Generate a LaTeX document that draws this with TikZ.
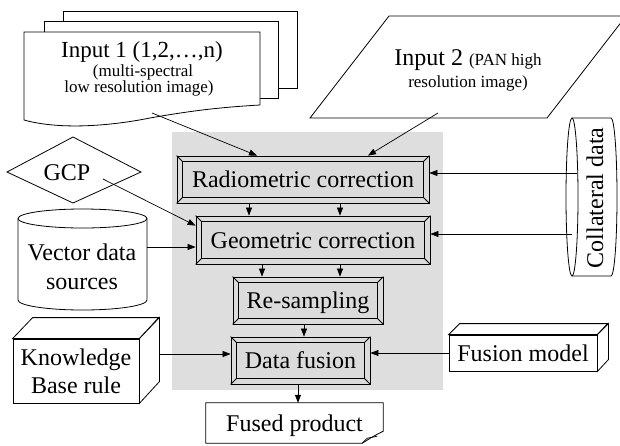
\documentclass[tikz,border=0pt]{standalone}
\usepackage{fontspec}
\setmainfont{Liberation Serif}
\usetikzlibrary{arrows.meta,calc}
\tikzset{
  big/.style={font=\fontsize{24}{26}\selectfont, inner sep=0pt, anchor=base},
  smalltxt/.style={font=\fontsize{17}{19}\selectfont, inner sep=0pt, anchor=base},
  edge/.style={draw=black, line width=0.8pt},
  arr/.style={-{Triangle[length=8pt,width=6pt]}, line width=0.7pt},
  bevelbox/.style={draw=black, fill=black!14, line width=0.8pt, inner sep=0pt,
     text height=16pt, text depth=0pt, font=\fontsize{24}{26}\selectfont},
  plainbox/.style={draw=black, fill=white, line width=0.8pt, inner sep=0pt,
     text height=16pt, text depth=0pt, font=\fontsize{24}{26}\selectfont},
}
\newcommand\bevelit[1]{%
  \draw[line width=0.8pt] ([shift={(6pt,-6pt)}]#1.north west) rectangle ([shift={(-6pt,6pt)}]#1.south east);
  \draw[line width=0.8pt] (#1.north west) -- ([shift={(6pt,-6pt)}]#1.north west)
     (#1.north east) -- ([shift={(-6pt,-6pt)}]#1.north east)
     (#1.south west) -- ([shift={(6pt,6pt)}]#1.south west)
     (#1.south east) -- ([shift={(-6pt,6pt)}]#1.south east);}
\begin{document}
\begin{tikzpicture}[x=1pt,y=-1pt]
\useasboundingbox (0,0) rectangle (620,445);
% gray background
\fill[black!13] (172,132) rectangle (443,390);

% process boxes
\node[bevelbox, minimum width=252pt, minimum height=47pt] (rad) at (303,179.5) {Radiometric correction};
\bevelit{rad}
\node[bevelbox, minimum width=234pt, minimum height=48pt] (geo) at (313,240) {Geometric correction};
\bevelit{geo}
\node[bevelbox, minimum width=150pt, minimum height=47pt] (res) at (308,300.5) {Re-sampling};
\bevelit{res}
\node[bevelbox, minimum width=139pt, minimum height=47pt] (fus) at (300.5,360.5) {Data fusion};
\bevelit{fus}

% Input 1 stacked documents
\draw[edge, fill=white] (63,88) -- (63,11) -- (297,11) -- (297,88) -- cycle;
\draw[edge, fill=white] (44,98) -- (44,21) -- (278,21) -- (278,98) -- cycle;
\draw[edge, fill=white] (24,120) -- (24,32) -- (260,32) -- (260,105)
   .. controls (225,107) and (195,110) .. (150,118)
   .. controls (110,126) and (60,130) .. (24,120) -- cycle;
\node[big, font=\fontsize{23}{26}\selectfont] (in1a) at (142,57) {Input 1 (1,2,…,n)};
\node[smalltxt] (in1b) at (143,76) {(multi-spectral};
\node[smalltxt] (in1c) at (139,92) {low resolution image)};
\coordinate (in1out) at (152,113);

% Input 2 parallelogram
\draw[edge, fill=white] (310,118) -- (389,16) -- (626,16) -- (547,118) -- cycle;
\node[big] (in2a) at (468,65) {Input 2 {\fontsize{17}{19}\selectfont (PAN high}};
\node[smalltxt] (in2b) at (468,87) {resolution image)};
\coordinate (in2out) at (438,113);

% GCP diamond
\draw[edge, fill=white] (7,172) -- (73,137) -- (141,172) -- (73,203) -- cycle;
\node[big] (gcp) at (67,180) {GCP};
\coordinate (gcpout) at (103,179);

% Vector data cylinder
\draw[edge, fill=white] (18,218.5) -- (18,300) arc (180:360:64.5pt and 10pt) -- (147,218.5);
\draw[edge, fill=white] (82.5,218.5) ellipse (64.5pt and 9.5pt);
\node[big] (vec1) at (82,260) {Vector data};
\node[big] (vec2) at (82,289) {sources};
\coordinate (vecout) at (147,247);

% Collateral data cylinder (horizontal axis)
\draw[edge, fill=white] (572,118) -- (611,118) arc (90:-90:6pt and 79pt) -- (572,276);
\draw[edge, fill=white] (572,197) ellipse (6pt and 79pt);
\node[big, rotate=90] (col) at (603,198) {Collateral data};
\coordinate (colout1) at (577,173);
\coordinate (colout2) at (572,234);

% Knowledge base cuboid
\node[draw=black, fill=white, line width=0.8pt, minimum width=126pt, minimum height=64pt, inner sep=0pt] (kb) at (76,371) {};
\draw[edge, fill=white] (kb.north west) -- ++(20pt,21pt) -- ++(126pt,0pt) -- (kb.north east) -- cycle;
\draw[edge, fill=white] (kb.north east) -- ++(20pt,21pt) -- ++(0pt,-64pt) -- (kb.south east) -- cycle;
\node[big] (kb1) at (76,365) {Knowledge};
\node[big] (kb2) at (76,393) {Base rule};
\coordinate (kbout) at (159,354);

% Fusion model cuboid
\node[plainbox, minimum width=148pt, minimum height=36pt] (fm) at (523,353) {Fusion model};
\draw[edge, fill=white] (fm.north west) -- ++(11pt,11pt) -- ++(148pt,0pt) -- (fm.north east) -- cycle;
\draw[edge, fill=white] (fm.north east) -- ++(11pt,11pt) -- ++(0pt,-36pt) -- (fm.south east) -- cycle;

% Fused product
\node[minimum width=177pt, minimum height=40pt, inner sep=0pt, text height=16pt, text depth=0pt,
      font=\fontsize{24}{26}\selectfont] (fp) at (294.5,423) {Fused product};
\draw[edge] (fp.north west) -- (fp.north east) -- ([yshift=12pt]fp.south east)
   .. controls ([shift={(-8pt,8pt)}]fp.south east) .. ([xshift=-21pt]fp.south east)
   -- (fp.south west) -- cycle;
\draw[line width=0.7pt] ([xshift=-21pt]fp.south east) -- ([shift={(-16pt,5pt)}]fp.south east) -- ([shift={(-6pt,7pt)}]fp.south east);

% connectors
\draw[arr] (in1out) -- ([xshift=-46pt]rad.north);
\draw[arr] (in2out) -- ([xshift=65pt]rad.north);
\draw[arr] (colout1) -- (colout1 -| rad.east);
\draw[arr] (colout2) -- (colout2 -| geo.east);
\draw[arr] ([xshift=-54pt]rad.south) -- ([xshift=-54pt]rad.south |- geo.north);
\draw[arr] ([xshift=37pt]rad.south) -- ([xshift=37pt]rad.south |- geo.north);
\draw[arr] (gcpout) -- ([yshift=-10pt]geo.north west);
\draw[arr] (vecout) -- (vecout -| geo.west);
\draw[arr] ([xshift=-51pt]geo.south) -- ([xshift=-51pt]geo.south |- res.north);
\draw[arr] ([xshift=27pt]geo.south) -- ([xshift=27pt]geo.south |- res.north);
\draw[arr] ([xshift=-4pt]res.south) -- ([xshift=-4pt]res.south |- fus.north);
\draw[arr] (kbout) -- (kbout -| fus.west);
\draw[arr] (fm.west) -- (fm.west -| fus.east);
\draw[arr] ([xshift=-2.5pt]fus.south) -- ([xshift=-2.5pt]fus.south |- fp.north);
\end{tikzpicture}
\end{document}
